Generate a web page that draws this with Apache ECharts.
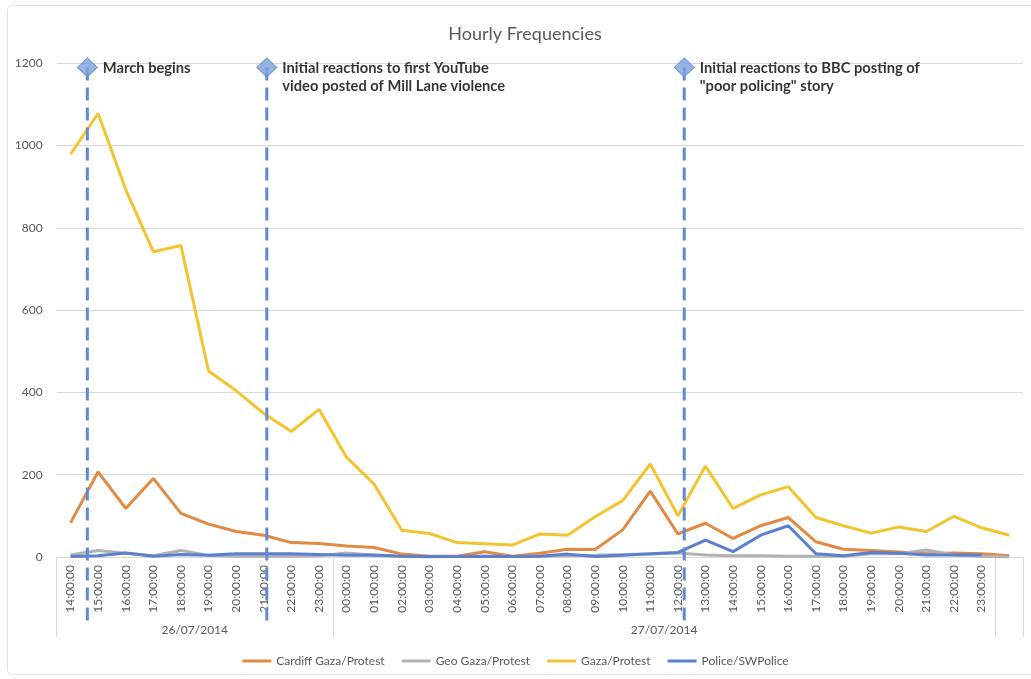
<!DOCTYPE html>
<html>
<head>
<meta charset="utf-8">
<script src="https://cdn.jsdelivr.net/npm/echarts@6/dist/echarts.min.js"></script>
<style>
html,body{margin:0;padding:0;background:#fff;}
#chart{width:1031px;height:679px;}
</style>
</head>
<body>
<div id="chart"></div>
<script>
// Hour categories (26/07/2014 14:00 to 27/07/2014 23:00, plus one trailing unlabeled slot)
const hours = [
  '14:00:00','15:00:00','16:00:00','17:00:00','18:00:00','19:00:00','20:00:00','21:00:00','22:00:00','23:00:00',
  '00:00:00','01:00:00','02:00:00','03:00:00','04:00:00','05:00:00','06:00:00','07:00:00','08:00:00','09:00:00',
  '10:00:00','11:00:00','12:00:00','13:00:00','14:00:00','15:00:00','16:00:00','17:00:00','18:00:00','19:00:00',
  '20:00:00','21:00:00','22:00:00','23:00:00',''
];
// Date groups: label, start slot, end slot
const dateGroups = ['26/07/2014','27/07/2014'];
const dateGroupStart = [0, 10];
const dateGroupEnd = [10, 34];
const axisEnd = 35;

const cardiff = [83,207,118,191,106,80,62,53,35,33, 27,23,7,2,2,13,2,9,19,18, 66,160,56,82,45,76,96,37,19,16, 12,8,10,8,3];
const geo     = [5,16,9,3,16,4,2,2,2,3, 10,4,1,0,1,1,1,2,3,4, 6,7,10,5,3,3,2,2,2,8, 8,17,5,2,0];
const gaza    = [979,1078,893,742,757,452,404,349,305,359, 242,177,65,57,35,32,29,56,53,98, 137,226,100,221,118,151,171,96,76,58, 73,62,99,71,53];
const police  = [1,3,10,2,6,4,8,8,8,6, 4,5,2,1,1,2,1,2,7,1, 4,8,11,41,13,53,76,8,3,11, 9,5,5,5,null];

const seriesNames = ['Cardiff Gaza/Protest','Geo Gaza/Protest','Gaza/Protest','Police/SWPolice'];
const seriesColors = ['#e08a43','#b2b2b2','#f4c430','#5b80d2'];

// Annotated events (position in hour slots) and their labels
const eventPos = [1.11, 7.61, 22.73];
const eventLevel = [1190, 1190, 1190];
const eventLabels = [
  'March begins',
  'Initial reactions to first YouTube\nvideo posted of Mill Lane violence',
  'Initial reactions to BBC posting of\n"poor policing" story'
];

const yTicks = {min:0, max:1200, interval:200};

const FONT = 'Lato, "Open Sans", sans-serif';
const chart = echarts.init(document.getElementById('chart'));

const lineSeries = [cardiff, geo, gaza, police].map((d, i) => ({
  name: seriesNames[i],
  type: 'line',
  data: d,
  symbol: 'none',
  color: seriesColors[i],
  lineStyle: {width: 3, color: seriesColors[i]},
  z: 3
}));

const groupLabelPos = dateGroups.map((g, i) => (dateGroupStart[i] + dateGroupEnd[i]) / 2);

chart.setOption({
  animation: false,
  textStyle: {fontFamily: FONT},
  title: {
    text: 'Hourly Frequencies',
    left: 520, top: 20, textAlign: 'center',
    textStyle: {fontSize: 18, fontWeight: 'normal', color: '#595959', fontFamily: FONT}
  },
  graphic: [{
    type: 'rect', shape: {x: 7.5, y: 5.5, width: 1030, height: 669, r: 4},
    style: {fill: 'none', stroke: '#e3e3e3', lineWidth: 1}, silent: true, z: -10
  }],
  legend: {
    data: seriesNames,
    top: 650, left: 'center',
    itemWidth: 29, itemHeight: 3, itemGap: 17,
    icon: 'rect',
    textStyle: {fontSize: 12, color: '#595959', fontFamily: FONT}
  },
  grid: {left: 56.7, right: 8, top: 63.3, bottom: 122, containLabel: false},
  xAxis: [{
    type: 'category',
    data: hours,
    boundaryGap: true,
    axisLine: {show: true, lineStyle: {color: '#d9d9d9', width: 1}},
    axisTick: {show: false},
    axisLabel: {rotate: 90, interval: 0, fontSize: 12, color: '#595959', margin: 8, fontFamily: FONT}
  }, {
    type: 'value',
    min: 0, max: axisEnd,
    position: 'bottom',
    axisLine: {show: false},
    splitLine: {show: false},
    axisTick: {show: true, customValues: dateGroupStart.concat([dateGroupEnd[1], axisEnd]), length: 80, inside: false,
               lineStyle: {color: '#d9d9d9', width: 1}},
    axisLabel: {
      customValues: groupLabelPos,
      formatter: v => { const k = groupLabelPos.indexOf(v); return k >= 0 ? dateGroups[k] : ''; },
      margin: 67, fontSize: 12, color: '#595959', fontFamily: FONT
    }
  }],
  yAxis: [{
    type: 'value',
    min: yTicks.min, max: yTicks.max, interval: yTicks.interval,
    axisLine: {show: false},
    axisTick: {show: false},
    splitLine: {lineStyle: {color: '#d9d9d9', width: 1}},
    axisLabel: {fontSize: 12, color: '#595959', margin: 14, fontFamily: FONT, formatter: v => String(v)}
  }],
  series: lineSeries.concat([{
    name: 'eventLines',
    type: 'custom',
    xAxisIndex: 1, yAxisIndex: 0,
    clip: false, silent: true, z: 5,
    data: eventPos.map((x, i) => [x, eventLevel[i]]),
    renderItem: (params, api) => {
      const top = api.coord([api.value(0), api.value(1)]);
      const base = api.coord([api.value(0), 0]);
      return {
        type: 'line',
        shape: {x1: top[0], y1: top[1], x2: top[0], y2: base[1] + 65},
        style: {stroke: '#6389d4', lineWidth: 3, lineDash: [13, 7]}
      };
    }
  }, {
    name: 'events',
    type: 'scatter',
    xAxisIndex: 1, yAxisIndex: 0,
    clip: false, silent: true, z: 6,
    symbol: 'diamond', symbolSize: [20, 19],
    itemStyle: {color: '#7ba1da', borderColor: '#5f8ad0', borderWidth: 1},
    data: eventPos.map((x, i) => [x, eventLevel[i]]),
    label: {
      show: true,
      position: [26, 2],
      align: 'left', verticalAlign: 'top',
      formatter: p => eventLabels[p.dataIndex],
      fontSize: 14.7, fontWeight: 'bold', color: '#000', lineHeight: 18, fontFamily: FONT
    }
  }])
});
</script>
</body>
</html>
